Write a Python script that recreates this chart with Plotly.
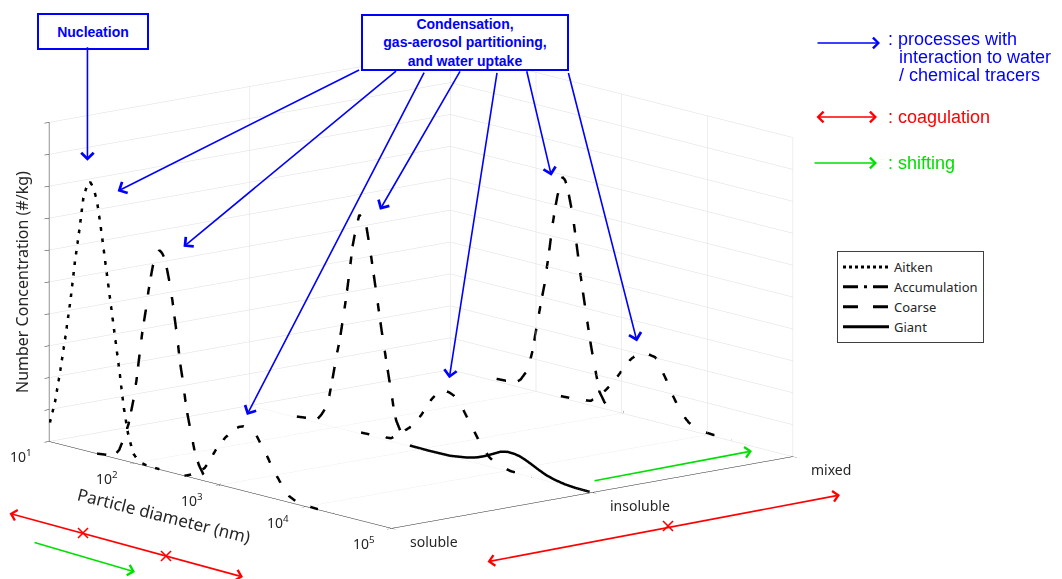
import plotly.graph_objects as go

W, H = 1062, 579

# ---------------- data ----------------
# x values are log10(particle diameter / nm); z is number concentration (0-10 arbitrary units)
ait_sol_logd = [1.01, 1.07, 1.13, 1.19, 1.25, 1.30, 1.35, 1.40, 1.44, 1.48, 1.52, 1.56, 1.60, 1.64,
                1.68, 1.72, 1.77, 1.82, 1.87, 1.92, 1.98, 2.05, 2.15, 2.39]
ait_sol_conc = [0.6, 1.3, 2.3, 3.4, 4.6, 5.8, 6.8, 7.9, 8.3, 8.46, 8.3, 7.9, 7.2, 6.4,
                5.6, 4.8, 3.8, 2.8, 1.7, 0.9, 0.3, 0.08, 0.02, 0.0]

acc_sol_logd = [1.56, 1.76, 1.82, 1.88, 1.93, 1.98, 2.02, 2.05, 2.09, 2.13, 2.16, 2.19, 2.22, 2.25,
                2.29, 2.32, 2.35, 2.38, 2.41, 2.44, 2.47, 2.50, 2.53, 2.56, 2.59, 2.62, 2.65, 2.70,
                2.75, 2.80, 2.88, 3.00]
acc_sol_conc = [0.0, 0.07, 0.3, 0.75, 1.2, 1.9, 2.6, 3.3, 4.2, 4.9, 5.5, 6.0, 6.45, 6.7,
                6.87, 6.8, 6.65, 6.3, 5.9, 5.4, 4.8, 4.2, 3.5, 3.0, 2.4, 1.9, 1.5, 0.85,
                0.45, 0.2, 0.06, 0.0]

crs_sol_logd = [2.58, 2.75, 2.82, 2.88, 2.94, 3.00, 3.06, 3.12, 3.16, 3.22, 3.27, 3.32, 3.37, 3.42,
                3.47, 3.52, 3.57, 3.63, 3.69, 3.75, 3.80, 3.88, 3.96, 4.10, 4.32]
crs_sol_conc = [0.0, 0.2, 0.42, 0.7, 1.03, 1.3, 1.53, 1.72, 1.85, 1.97, 2.02, 2.0, 1.96, 1.85,
                1.61, 1.4, 1.15, 0.85, 0.6, 0.35, 0.2, 0.09, 0.04, 0.02, 0.0]

acc_ins_logd = [1.55, 1.79, 1.84, 1.89, 1.93, 1.97, 2.02, 2.05, 2.08, 2.11, 2.14, 2.17, 2.20, 2.24,
                2.28, 2.32, 2.36, 2.39, 2.42, 2.45, 2.48, 2.51, 2.54, 2.57, 2.60, 2.63, 2.65, 2.68,
                2.71, 2.76, 2.81, 2.89]
acc_ins_conc = [0.03, 0.11, 0.3, 0.55, 0.95, 1.55, 2.35, 2.75, 3.3, 3.85, 4.45, 5.1, 5.8, 6.4,
                6.85, 6.75, 6.57, 6.1, 5.6, 5.05, 4.5, 3.95, 3.4, 2.9, 2.4, 1.9, 1.6, 1.07,
                0.7, 0.4, 0.18, 0.07]

crs_ins_logd = [2.30, 2.50, 2.65, 2.75, 2.81, 2.87, 2.94, 3.01, 3.06, 3.11, 3.16, 3.20, 3.27, 3.33,
                3.38, 3.43, 3.48, 3.54, 3.60, 3.66, 3.72, 3.80, 3.89, 4.05, 4.29]
crs_ins_conc = [0.04, 0.06, 0.1, 0.3, 0.45, 0.59, 0.8, 1.1, 1.35, 1.59, 1.78, 1.92, 2.02, 2.0,
                1.94, 1.8, 1.63, 1.35, 1.08, 0.8, 0.53, 0.28, 0.12, 0.02, 0.0]

gnt_ins_logd = [2.87, 3.10, 3.34, 3.54, 3.65, 3.74, 3.84, 3.93, 4.01, 4.09, 4.15, 4.21, 4.29, 4.37,
                4.46, 4.56, 4.68, 4.80, 4.97]
gnt_ins_conc = [0.02, 0.01, 0.02, 0.1, 0.18, 0.28, 0.42, 0.55, 0.6, 0.59, 0.56, 0.5, 0.4, 0.29,
                0.18, 0.1, 0.04, 0.01, 0.0]

acc_mix_logd = [1.54, 1.76, 1.82, 1.88, 1.92, 1.96, 2.02, 2.07, 2.10, 2.13, 2.16, 2.19, 2.22, 2.25,
                2.31, 2.34, 2.37, 2.40, 2.43, 2.46, 2.49, 2.52, 2.55, 2.58, 2.61, 2.64, 2.66, 2.70,
                2.74, 2.80, 2.88, 3.02]
acc_mix_conc = [0.08, 0.11, 0.25, 0.51, 0.8, 1.25, 2.24, 3.0, 3.44, 4.04, 4.64, 5.3, 5.84, 6.3,
                6.93, 6.85, 6.6, 6.2, 5.8, 5.2, 4.6, 4.0, 3.45, 2.92, 2.4, 1.9, 1.6, 1.05,
                0.5, 0.2, 0.09, 0.05]

crs_mix_logd = [2.29, 2.50, 2.64, 2.76, 2.82, 2.88, 2.96, 3.04, 3.10, 3.16, 3.21, 3.27, 3.33, 3.39,
                3.44, 3.49, 3.54, 3.59, 3.65, 3.71, 3.78, 3.86, 3.96, 4.06, 4.28]
crs_mix_conc = [0.05, 0.08, 0.14, 0.43, 0.62, 0.83, 1.15, 1.51, 1.74, 1.91, 2.0, 2.06, 2.05, 2.02,
                1.9, 1.56, 1.3, 0.99, 0.7, 0.44, 0.25, 0.12, 0.07, 0.05, 0.04]

solubility_labels = ["soluble", "insoluble", "mixed"]
solubility_pos = [0, 1, 2]
diam_tick_pos = [1, 2, 3, 4, 5]
diam_tick_text = ["10<sup>1</sup>", "10<sup>2</sup>", "10<sup>3</sup>", "10<sup>4</sup>", "10<sup>5</sup>"]

mode_names = ["Aitken", "Accumulation", "Coarse", "Giant"]
# dash pattern of the 3-D curves (WebGL patterns) and of the legend keys (SVG patterns)
curve_dash = {"Aitken": "dash", "Accumulation": "longdashdot", "Coarse": "longdash", "Giant": "solid"}
legend_dash = {"Aitken": "dot", "Accumulation": "longdashdot", "Coarse": "longdash", "Giant": "solid"}

curves = [
    ("Aitken", 0, ait_sol_logd, ait_sol_conc),
    ("Accumulation", 0, acc_sol_logd, acc_sol_conc),
    ("Coarse", 0, crs_sol_logd, crs_sol_conc),
    ("Accumulation", 1, acc_ins_logd, acc_ins_conc),
    ("Coarse", 1, crs_ins_logd, crs_ins_conc),
    ("Giant", 1, gnt_ins_logd, gnt_ins_conc),
    ("Accumulation", 2, acc_mix_logd, acc_mix_conc),
    ("Coarse", 2, crs_mix_logd, crs_mix_conc),
]

# ---------------- figure ----------------
fig = go.Figure()
for (nm, ypos, xs, zs) in curves:
    fig.add_trace(go.Scatter3d(
        x=xs, y=[ypos] * len(xs), z=zs, mode="lines", name=nm, legendgroup=nm,
        showlegend=False,
        line=dict(color="black", width=5, dash=curve_dash[nm]),
        hoverinfo="skip"))
# legend keys
for nm in mode_names:
    fig.add_trace(go.Scatter3d(
        x=[None], y=[None], z=[None], mode="lines", name=nm, legendgroup=nm,
        showlegend=True, line=dict(color="black", width=3, dash=legend_dash[nm]),
        hoverinfo="skip"))

TICKFONT = dict(family="Noto Sans", size=14, color="#262626")
axis_common = dict(showbackground=False, showgrid=True, gridcolor="#dedede", gridwidth=1,
                   showline=True, linecolor="#262626", linewidth=1, zeroline=False,
                   showspikes=False, showticklabels=False, ticks="outside", ticklen=6,
                   tickcolor="#262626", title=dict(text=""))

scene_ann = []
# tick labels for diameter axis
for pos, txt in zip(diam_tick_pos, diam_tick_text):
    scene_ann.append(dict(x=pos, y=0, z=0, text=txt, showarrow=False, xanchor="center",
                          yanchor="middle", xshift=-28, yshift=-15, font=TICKFONT))
for pos, txt in zip(solubility_pos, solubility_labels):
    scene_ann.append(dict(x=5, y=pos, z=0, text=txt, showarrow=False, xanchor="left",
                          yanchor="middle", xshift=16, yshift=-13, font=TICKFONT))
# axis titles
scene_ann.append(dict(x=3, y=0, z=0, text="Particle diameter (nm)", showarrow=False,
                      textangle=14.2, xshift=-56, yshift=-31, xanchor="center", yanchor="middle",
                      font=dict(family="Noto Sans", size=17, color="#262626")))
scene_ann.append(dict(x=1, y=0, z=5, text="Number Concentration (#/kg)", showarrow=False,
                      textangle=-90, xshift=-27, yshift=0, xanchor="center", yanchor="middle",
                      font=dict(family="Noto Sans", size=16, color="#262626")))

BLUE = "#0000ff"
# arrows: (x, y, z) of the tip and pixel offset to the tail
blue_arrows = [
    (1.448, 0, 9.10, 0, -115),
    (1.80, 0, 8.39, 243, -122),
    (2.57, 0, 7.17, 214, -177),
    (3.31, 0, 2.40, 178, -344),
    (2.52, 1, 7.17, 81, -140),
    (3.33, 1, 2.44, 48, -307),
    (2.18, 2, 6.88, -25, -106),
    (3.18, 2, 2.37, -69, -270),
]
for (ax_, ay_, az_, dx, dy) in blue_arrows:
    scene_ann.append(dict(x=ax_, y=ay_, z=az_, text="", showarrow=True, ax=dx, ay=dy,
                          arrowhead=4, arrowsize=1.5, arrowwidth=1.6, arrowcolor=BLUE,
                          standoff=0))

fig.update_layout(
    width=W, height=H,
    margin=dict(l=0, r=0, t=0, b=0),
    paper_bgcolor="white",
    scene=dict(
        domain=dict(x=[0, 0.7928], y=[0, 1]),
        xaxis=dict(axis_common, range=[1, 5], tickvals=diam_tick_pos),
        yaxis=dict(axis_common, range=[0, 2], tickvals=solubility_pos),
        zaxis=dict(axis_common, range=[0, 10], dtick=1, tick0=0),
        aspectmode="manual", aspectratio=dict(x=1.84, y=1.81, z=1.128),
        camera=dict(eye=dict(x=1.496, y=-1.256, z=0.426), up=dict(x=0, y=0, z=1),
                    center=dict(x=0, y=0, z=0), projection=dict(type="orthographic")),
        annotations=scene_ann,
    ),
    legend=dict(x=837 / W, y=1 - 251 / H, xanchor="left", yanchor="top",
                bordercolor="#404040", borderwidth=1, bgcolor="white", tracegroupgap=0,
                itemwidth=46,
                font=dict(family="Noto Sans", size=13, color="#262626")),
    showlegend=True,
)


def px(x):
    return x / W


def py(y):
    return 1 - y / H


BOXFONT = dict(family="Liberation Sans", size=14, color=BLUE)
ann = []
ann.append(dict(x=px(93), y=py(31), xref="paper", yref="paper", text="<b>Nucleation</b>",
                showarrow=False, font=BOXFONT, bordercolor=BLUE, borderwidth=2, borderpad=2,
                width=104, height=29, bgcolor="white", xanchor="center", yanchor="middle"))
ann.append(dict(x=px(465), y=py(42.5), xref="paper", yref="paper",
                text="<b>Condensation,<br>gas-aerosol partitioning,<br>and water uptake</b>",
                showarrow=False, font=BOXFONT, bordercolor=BLUE, borderwidth=2, borderpad=1,
                width=202, height=51, bgcolor="white", xanchor="center", yanchor="middle"))

RED = "#ff0000"
GREEN = "#00e000"
# process key at the top right
LEGFONT = 18
key_arrows = [
    (880, 43, -64, 0, BLUE, "end"),
    (877, 117, -62, 0, RED, "end+start"),
    (877, 163, -64, 0, GREEN, "end"),
]
for (x, y, dx, dy, col, side) in key_arrows:
    ann.append(dict(x=px(x), y=py(y), xref="paper", yref="paper", text="", showarrow=True,
                    ax=dx, ay=dy, arrowhead=4, startarrowhead=4, arrowside=side,
                    arrowsize=1.3, startarrowsize=1.3, arrowwidth=1.6, arrowcolor=col,
                    standoff=0, startstandoff=0))
key_texts = [
    (886, 39, ": processes with", BLUE),
    (897, 57, "interaction to water", BLUE),
    (897, 75, "/ chemical tracers", BLUE),
    (886, 117, ": coagulation", RED),
    (886, 163, ": shifting", GREEN),
]
for (x, y, t, col) in key_texts:
    ann.append(dict(x=px(x), y=py(y), xref="paper", yref="paper", text=t, showarrow=False,
                    xanchor="left", yanchor="middle",
                    font=dict(family="Liberation Sans", size=LEGFONT, color=col)))

# coagulation / shifting arrows along the axes
axis_arrows = [
    (243, 577, -235, -64, RED, "end+start"),
    (135, 572, -102, -30, GREEN, "end"),
    (840, 495, -354, 67, RED, "end+start"),
    (752, 451, -159, 30, GREEN, "end"),
]
for (x, y, dx, dy, col, side) in axis_arrows:
    ann.append(dict(x=px(x), y=py(y), xref="paper", yref="paper", text="", showarrow=True,
                    ax=dx, ay=dy, arrowhead=4, startarrowhead=4, arrowside=side,
                    arrowsize=1.3, startarrowsize=1.3, arrowwidth=1.6, arrowcolor=col,
                    standoff=0, startstandoff=0))

fig.update_layout(annotations=ann)

# red cross markers on coagulation arrows
shapes = []
for (cx, cy) in [(83, 533), (166, 556), (668, 526)]:
    s = 5
    shapes.append(dict(type="line", xref="paper", yref="paper", x0=px(cx - s), y0=py(cy - s),
                       x1=px(cx + s), y1=py(cy + s), line=dict(color=RED, width=1.6)))
    shapes.append(dict(type="line", xref="paper", yref="paper", x0=px(cx - s), y0=py(cy + s),
                       x1=px(cx + s), y1=py(cy - s), line=dict(color=RED, width=1.6)))
fig.update_layout(shapes=shapes)

fig.write_html("out.html", config={"displayModeBar": False},
               post_script="document.body.style.margin='0';document.body.style.overflow='hidden';")
